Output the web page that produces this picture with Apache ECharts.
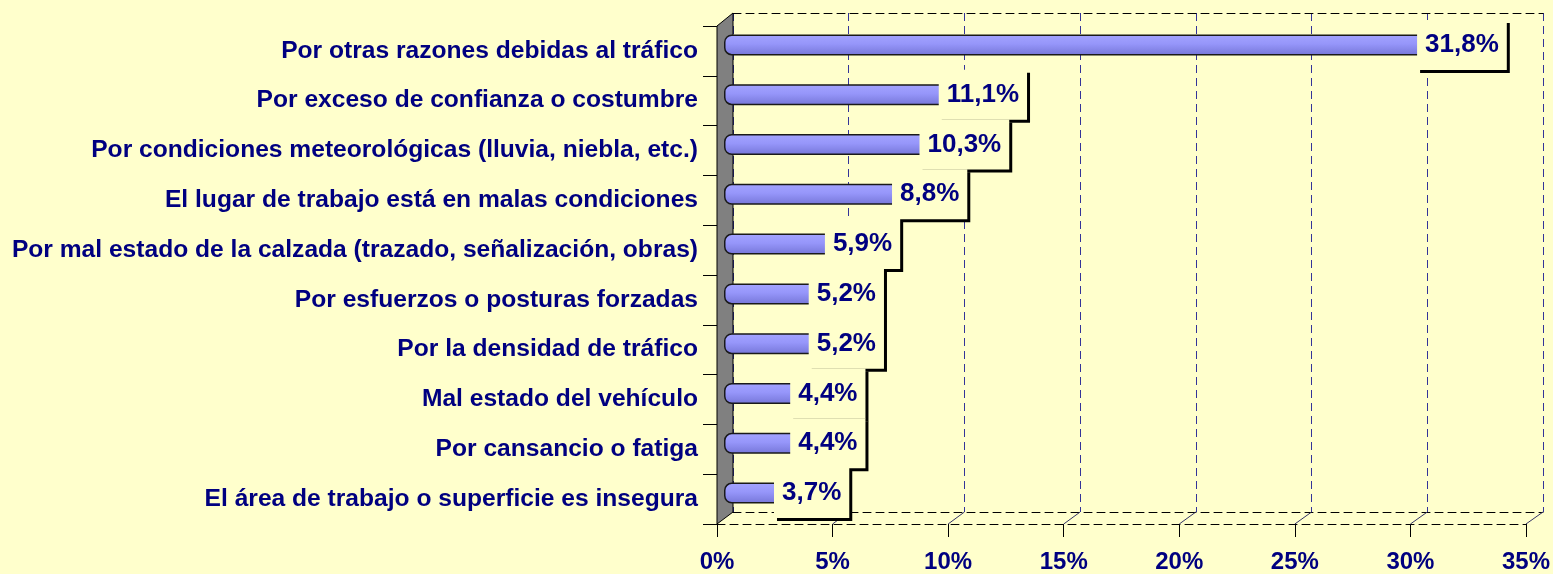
<!DOCTYPE html>
<html>
<head>
<meta charset="utf-8">
<script src="https://cdn.jsdelivr.net/npm/echarts@6/dist/echarts.min.js"></script>
<style>
html,body{margin:0;padding:0;background:#FFFFCC;}
#c{width:1553px;height:574px;}
</style>
</head>
<body>
<div id="c"></div>
<script>
const categories = [
  'Por otras razones debidas al tráfico',
  'Por exceso de confianza o costumbre',
  'Por condiciones meteorológicas (lluvia, niebla, etc.)',
  'El lugar de trabajo está en malas condiciones',
  'Por mal estado de la calzada (trazado, señalización, obras)',
  'Por esfuerzos o posturas forzadas',
  'Por la densidad de tráfico',
  'Mal estado del vehículo',
  'Por cansancio o fatiga',
  'El área de trabajo o superficie es insegura'
];
const values = [31.8, 11.1, 10.3, 8.8, 5.9, 5.2, 5.2, 4.4, 4.4, 3.7];
const xTicks = [0, 5, 10, 15, 20, 25, 30, 35];

const W = 1553, H = 574;
const front = {left: 717, right: 27, top: 26, bottom: 50};
const back  = {left: 733, right: 10, top: 13, bottom: 62};
const mid   = {left: 724, right: 19, top: 20, bottom: 56};
const FONT = '"Liberation Sans", Arial, sans-serif';
const NAVY = '#000080';
const xMin = xTicks[0], xMax = xTicks[xTicks.length - 1], xStep = xTicks[1] - xTicks[0];

const chart = echarts.init(document.getElementById('c'), null, {renderer: 'canvas'});
chart.setOption({
  backgroundColor: '#FFFFCC',
  animation: false,
  grid: [
    Object.assign({}, front),
    Object.assign({}, back),
    Object.assign({}, mid)
  ],
  xAxis: [
    {gridIndex: 0, type: 'value', min: xMin, max: xMax, interval: xStep, position: 'bottom',
     axisLine: {show: true, lineStyle: {color: '#000', type: [8, 5], width: 1}},
     axisTick: {show: true, length: 13, lineStyle: {color: '#000', width: 1}},
     axisLabel: {formatter: '{value}%', color: NAVY, fontWeight: 'bold', fontSize: 24, fontFamily: FONT, margin: 26},
     splitLine: {show: false}},
    {gridIndex: 1, type: 'value', min: xMin, max: xMax, interval: xStep, position: 'bottom',
     axisLine: {show: true, lineStyle: {color: '#000', type: [8, 5], width: 1}},
     axisTick: {show: false}, axisLabel: {show: false},
     splitLine: {show: true, lineStyle: {color: '#333399', type: [8, 5], width: 1}}},
    {gridIndex: 1, type: 'value', min: xMin, max: xMax, interval: xStep, position: 'top',
     axisLine: {show: true, lineStyle: {color: '#000', type: [8, 5], width: 1}},
     axisTick: {show: false}, axisLabel: {show: false}, splitLine: {show: false}},
    {gridIndex: 2, type: 'value', min: xMin, max: xMax, interval: xStep, show: false}
  ],
  yAxis: [
    {gridIndex: 0, type: 'category', data: categories, inverse: true,
     axisLine: {show: true, lineStyle: {color: '#000', width: 1}},
     axisTick: {show: true, length: 14, lineStyle: {color: '#000', width: 1}},
     axisLabel: {color: NAVY, fontWeight: 'bold', fontSize: 24.6, fontFamily: FONT, margin: 19}},
    {gridIndex: 1, type: 'category', data: categories, inverse: true, show: false},
    {gridIndex: 2, type: 'category', data: categories, inverse: true, show: false}
  ],
  series: [{
    type: 'bar',
    xAxisIndex: 3, yAxisIndex: 2,
    data: values,
    barWidth: 21,
    z: 5,
    itemStyle: {
      color: new echarts.graphic.LinearGradient(0, 0, 0, 1, [
        {offset: 0, color: '#A4A4FF'},
        {offset: 0.45, color: '#9696FA'},
        {offset: 1, color: '#7676D8'}
      ]),
      borderColor: '#1a1a1a', borderWidth: 1.5,
      borderRadius: [7, 0, 0, 7]
    },
    label: {
      show: true, position: 'right', distance: 2, align: 'center',
      formatter: p => p.value.toFixed(1).replace('.', ',') + '%',
      color: NAVY, fontWeight: 'bold', fontSize: 26, fontFamily: FONT,
      backgroundColor: '#FFFFCC', padding: [12, 8, 12, 8],
      shadowColor: '#000', shadowBlur: 0, shadowOffsetX: 3, shadowOffsetY: 3
    }
  }]
});

// 3D decorations: wall and floor connectors derived from the axes
function px(axisIdx, v) { return chart.convertToPixel({xAxisIndex: axisIdx}, v); }
const fTop = front.top, fBot = H - front.bottom, bTop = back.top, bBot = H - back.bottom;
const fx0 = px(0, xMin), bx0 = px(1, xMin);
const graphics = [{
  type: 'polygon', z: 3,
  shape: {points: [[fx0, fTop], [bx0, bTop], [bx0, bBot], [fx0, fBot]]},
  style: {fill: '#808080', stroke: '#000', lineWidth: 1}
}];
xTicks.slice(1).forEach(v => {
  graphics.push({type: 'line', z: 2,
    shape: {x1: px(0, v), y1: fBot, x2: px(1, v), y2: bBot},
    style: {stroke: '#333366', lineWidth: 1}});
});
chart.setOption({graphic: graphics});
</script>
</body>
</html>
